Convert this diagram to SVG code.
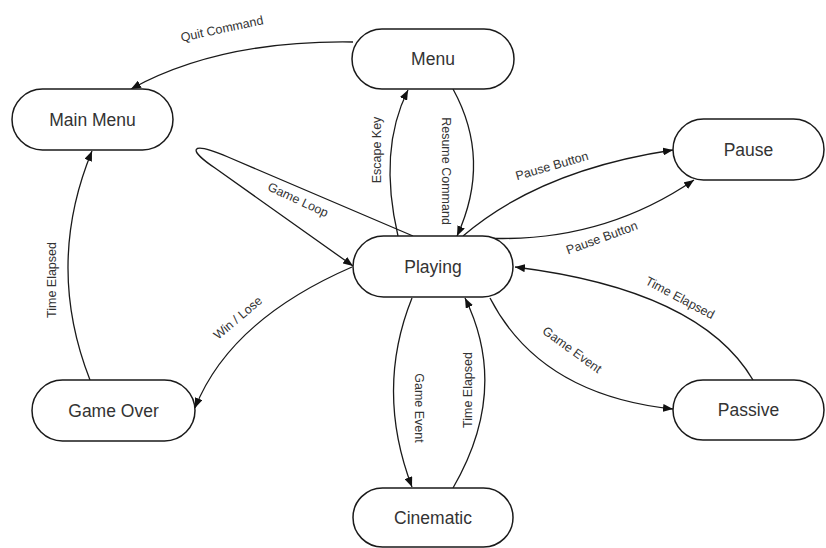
<svg xmlns="http://www.w3.org/2000/svg" width="826" height="548" viewBox="0 0 826 548">
  <style>
    .state rect { fill: #ffffff; stroke: #1a1a1a; stroke-width: 1.5; }
    .state text { font-family: "Liberation Sans", Arial, sans-serif; font-size: 17.5px; fill: #333333; text-anchor: middle; dominant-baseline: central; }
    .edge { fill: none; stroke: #1a1a1a; stroke-width: 1.3; }
    .arrow { marker-end: url(#head); }
    .lbl { font-family: "Liberation Sans", Arial, sans-serif; font-size: 12.5px; fill: #333333; text-anchor: middle; dominant-baseline: central; }
  </style>
  <defs>
    <marker id="head" viewBox="0 0 10 8" refX="10" refY="4" markerWidth="10" markerHeight="8" markerUnits="userSpaceOnUse" orient="auto">
      <path d="M0,0 L10,4 L0,8 Z" fill="#111111"/>
    </marker>
  </defs>
  <rect width="826" height="548" fill="#ffffff"/>

  <!-- transitions -->
  <g id="connectors">
    <path class="edge arrow" d="M353,42 Q220,40 131,89"/>
    <path class="edge arrow" d="M398,236 Q378,150 408,90"/>
    <path class="edge arrow" d="M453,89 Q492,160 457,236"/>
    <path class="edge arrow" d="M413,236 L228,157 C188,140 188,150 215,168 L353,266"/>
    <path class="edge arrow" d="M463,236 Q540,170 673,150"/>
    <path class="edge arrow" d="M483,238 Q600,244 694,180"/>
    <path class="edge arrow" d="M753,380 Q700,290 515,267"/>
    <path class="edge arrow" d="M490,298 Q540,395 673,409"/>
    <path class="edge arrow" d="M412,298 Q375,390 412,487"/>
    <path class="edge arrow" d="M453,488 Q510,390 465,298"/>
    <path class="edge arrow" d="M352,267 Q230,320 195,408"/>
    <path class="edge arrow" d="M90,380 Q45,265 92,151"/>

    <text class="lbl" transform="translate(222,29) rotate(-12)">Quit Command</text>
    <text class="lbl" transform="translate(377,150) rotate(-90)">Escape Key</text>
    <text class="lbl" transform="translate(446,171) rotate(90)">Resume Command</text>
    <text class="lbl" transform="translate(298,200) rotate(25)">Game Loop</text>
    <text class="lbl" transform="translate(552,166) rotate(-16)">Pause Button</text>
    <text class="lbl" transform="translate(602,238) rotate(-20)">Pause Button</text>
    <text class="lbl" transform="translate(680,298) rotate(28)">Time Elapsed</text>
    <text class="lbl" transform="translate(572,350) rotate(36)">Game Event</text>
    <text class="lbl" transform="translate(419,408) rotate(90)">Game Event</text>
    <text class="lbl" transform="translate(468,390) rotate(-90)">Time Elapsed</text>
    <text class="lbl" transform="translate(238,318) rotate(-40)">Win / Lose</text>
    <text class="lbl" transform="translate(52,280) rotate(-90)">Time Elapsed</text>
  </g>

  <!-- states -->
  <g id="main-menu" class="state">
    <rect x="12" y="89" width="161" height="61" rx="30.5"/>
    <text x="92.5" y="119.5">Main Menu</text>
  </g>
  <g id="menu" class="state">
    <rect x="352" y="29" width="162" height="60" rx="30"/>
    <text x="433" y="59">Menu</text>
  </g>
  <g id="pause" class="state">
    <rect x="673" y="119" width="151" height="61" rx="30.5"/>
    <text x="748.5" y="149.5">Pause</text>
  </g>
  <g id="playing" class="state">
    <rect x="353" y="236" width="160" height="61" rx="30.5"/>
    <text x="433" y="266.5">Playing</text>
  </g>
  <g id="passive" class="state">
    <rect x="673" y="380" width="151" height="60" rx="30"/>
    <text x="748.5" y="410">Passive</text>
  </g>
  <g id="game-over" class="state">
    <rect x="32" y="380" width="163" height="61" rx="30.5"/>
    <text x="113.5" y="410.5">Game Over</text>
  </g>
  <g id="cinematic" class="state">
    <rect x="353" y="488" width="160" height="59" rx="29.5"/>
    <text x="433" y="517.5">Cinematic</text>
  </g>
</svg>
